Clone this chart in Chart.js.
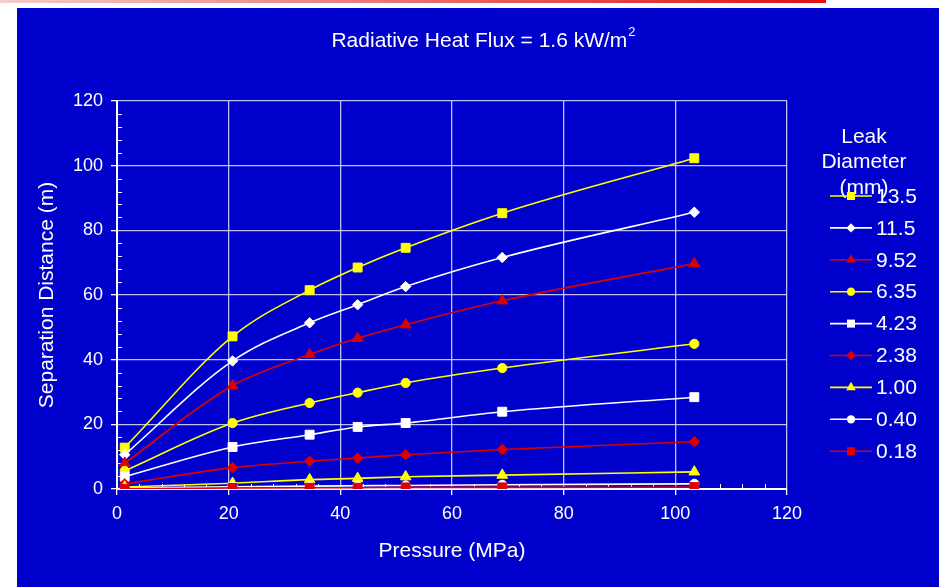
<!DOCTYPE html>
<html>
<head>
<meta charset="utf-8">
<script src="https://cdn.jsdelivr.net/npm/chart.js@4.4.0/dist/chart.umd.min.js"></script>
<style>
  html, body { margin: 0; padding: 0; background: #fff; width: 939px; height: 587px; overflow: hidden; }
  #topline { position: absolute; left: 0; top: 0; width: 826px; height: 3px; background: linear-gradient(to right, #f4cccc, #e01010); }
  #panel { position: absolute; left: 17px; top: 8px; width: 922px; height: 579px; background: #0000cc; }
</style>
</head>
<body>
<div id="topline"></div>
<div id="panel"><canvas id="chart" width="922" height="579"></canvas></div>
<script>
// pressures (MPa) where the markers sit
const pressures = [1.38, 20.7, 34.5, 43.1, 51.7, 69.0, 103.4];

// separation distance (m) for each leak diameter
const d13_5 = [12.8, 47.2, 61.5, 68.5, 74.6, 85.3, 102.3];
const d11_5 = [10.6, 39.6, 51.4, 57.0, 62.6, 71.6, 85.6];
const d9_52 = [8.0, 32.0, 41.6, 46.6, 50.8, 58.2, 69.7];
const d6_35 = [5.6, 20.4, 26.6, 29.8, 32.8, 37.4, 44.9];
const d4_23 = [3.8, 13.0, 16.8, 19.2, 20.4, 23.9, 28.4];
const d2_38 = [1.6, 6.6, 8.6, 9.6, 10.6, 12.2, 14.6];
const d1_00 = [0.6, 1.8, 2.9, 3.3, 3.8, 4.3, 5.3];
const d0_40 = [0.3, 0.7, 0.9, 1.0, 1.1, 1.3, 1.6];
const d0_18 = [0.1, 0.3, 0.4, 0.4, 0.5, 0.5, 0.6];

const diameters = ['13.5', '11.5', '9.52', '6.35', '4.23', '2.38', '1.00', '0.40', '0.18'];
const seriesValues = [d13_5, d11_5, d9_52, d6_35, d4_23, d2_38, d1_00, d0_40, d0_18];
const xTicks = [0, 20, 40, 60, 80, 100, 120];
const yTicks = [0, 20, 40, 60, 80, 100, 120];

const YEL = '#ffff00', WHT = '#ffffff', RED = '#dd0000';
const colors = [YEL, WHT, RED, YEL, WHT, RED, YEL, WHT, RED];
const shapes = ['rect', 'rectRot', 'triangle', 'circle', 'rect', 'rectRot', 'triangle', 'circle', 'rect'];
const sizes = { rect: 6.3, rectRot: 5.2, triangle: 6.2, circle: 4.6 };

const FONT = '"Liberation Sans", Arial, sans-serif';

const datasets = seriesValues.map((vals, i) => ({
    label: diameters[i],
    data: vals.map((v, j) => ({ x: pressures[j], y: v })),
    borderColor: colors[i],
    backgroundColor: colors[i],
    pointBackgroundColor: colors[i],
    pointBorderColor: colors[i],
    pointStyle: shapes[i],
    pointRadius: sizes[shapes[i]],
    pointBorderWidth: 1,
    borderWidth: 1.6,
    cubicInterpolationMode: 'monotone',
    order: seriesValues.length - i
}));

// small inside ticks every 4 units, like the original
const minorTicks = {
    id: 'minorTicks',
    beforeDatasetsDraw(chart) {
        const ctx = chart.ctx;
        const xs = chart.scales.x, ys = chart.scales.y;
        const area = chart.chartArea;
        ctx.save();
        ctx.strokeStyle = '#ffffff';
        ctx.lineWidth = 1;
        ctx.beginPath();
        for (let v = 4; v < 120; v += 4) {
            if (v % 20 === 0) continue;
            const px = Math.round(xs.getPixelForValue(v)) + 0.5;
            ctx.moveTo(px, area.bottom);
            ctx.lineTo(px, area.bottom - 5);
            const py = Math.round(ys.getPixelForValue(v)) + 0.5;
            ctx.moveTo(area.left, py);
            ctx.lineTo(area.left + 5, py);
        }
        ctx.stroke();
        ctx.restore();
    }
};

// title with a real superscript 2
const chartTitle = {
    id: 'chartTitle',
    afterDraw(chart) {
        const ctx = chart.ctx;
        const main = 'Radiative Heat Flux = 1.6 kW/m';
        ctx.save();
        ctx.fillStyle = '#ffffff';
        ctx.textBaseline = 'middle';
        ctx.textAlign = 'left';
        ctx.font = '21px ' + FONT;
        const w1 = ctx.measureText(main).width;
        ctx.font = '13px ' + FONT;
        const w2 = ctx.measureText('2').width;
        const x0 = (chart.chartArea.left + chart.chartArea.right) / 2 + 31 - (w1 + w2) / 2;
        ctx.font = '21px ' + FONT;
        ctx.fillText(main, x0, 33);
        ctx.font = '13px ' + FONT;
        ctx.fillText('2', x0 + w1 + 1, 24);
        ctx.restore();
    }
};

function drawMarker(ctx, style, r, x, y) {
    ctx.beginPath();
    if (style === 'rect') {
        const s = r * Math.SQRT1_2;
        ctx.rect(x - s, y - s, s * 2, s * 2);
    } else if (style === 'rectRot') {
        ctx.moveTo(x, y - r); ctx.lineTo(x + r, y);
        ctx.lineTo(x, y + r); ctx.lineTo(x - r, y);
        ctx.closePath();
    } else if (style === 'triangle') {
        ctx.moveTo(x, y - r); ctx.lineTo(x + r * 0.87, y + r * 0.5);
        ctx.lineTo(x - r * 0.87, y + r * 0.5); ctx.closePath();
    } else {
        ctx.arc(x, y, r, 0, Math.PI * 2);
    }
    ctx.fill();
}

// legend on the right, line + marker + value
const sideLegend = {
    id: 'sideLegend',
    afterDraw(chart) {
        const ctx = chart.ctx;
        const area = chart.chartArea;
        const cx = area.right + 77;
        ctx.save();
        ctx.font = '21px ' + FONT;
        ctx.fillStyle = '#ffffff';
        ctx.textAlign = 'center';
        ctx.textBaseline = 'middle';
        ['Leak', 'Diameter', '(mm)'].forEach((t, i) => ctx.fillText(t, cx, 129 + i * 25.5));
        chart.data.datasets.forEach((ds, i) => {
            const y = 188 + i * 31.9;
            const x0 = area.right + 43;
            ctx.strokeStyle = ds.borderColor;
            ctx.lineWidth = 1.6;
            ctx.beginPath();
            ctx.moveTo(x0, y);
            ctx.lineTo(x0 + 42, y);
            ctx.stroke();
            ctx.fillStyle = ds.pointBackgroundColor;
            drawMarker(ctx, ds.pointStyle, ds.pointRadius * 0.9, x0 + 21, y);
            ctx.fillStyle = '#ffffff';
            ctx.textAlign = 'left';
            ctx.fillText(ds.label, x0 + 46, y + 1);
        });
        ctx.restore();
    }
};

new Chart(document.getElementById('chart'), {
    type: 'line',
    data: { datasets: datasets },
    options: {
        responsive: false,
        animation: false,
        layout: { padding: { left: 0, top: 93, right: 152, bottom: 0 } },
        plugins: {
            legend: { display: false },
            tooltip: { enabled: false },
            title: { display: false }
        },
        scales: {
            x: {
                type: 'linear',
                min: 0,
                max: 120,
                afterBuildTicks: s => { s.ticks = xTicks.map(v => ({ value: v })); },
                afterFit: s => { s.height = 98; },
                ticks: { color: '#ffffff', font: { family: FONT, size: 18 }, padding: 8, maxRotation: 0 },
                grid: { color: 'rgba(225,225,255,0.85)', lineWidth: 1.3, tickLength: 6, tickColor: '#ffffff' },
                border: { color: '#ffffff', width: 2 },
                title: {
                    display: true,
                    text: 'Pressure (MPa)',
                    color: '#ffffff',
                    font: { family: FONT, size: 21, lineHeight: 1.2 },
                    padding: { top: 0, bottom: 23 }
                }
            },
            y: {
                min: 0,
                max: 120,
                afterBuildTicks: s => { s.ticks = yTicks.map(v => ({ value: v })); },
                afterFit: s => { s.width = 100; },
                ticks: { color: '#ffffff', font: { family: FONT, size: 18 }, padding: 8 },
                grid: { color: 'rgba(225,225,255,0.85)', lineWidth: 1.3, tickLength: 6, tickColor: '#ffffff' },
                border: { color: '#ffffff', width: 2 },
                title: {
                    display: true,
                    text: 'Separation Distance (m)',
                    color: '#ffffff',
                    font: { family: FONT, size: 21, lineHeight: 1.2 },
                    padding: { top: 18, bottom: 0 }
                }
            }
        }
    },
    plugins: [minorTicks, chartTitle, sideLegend]
});
</script>
</body>
</html>
